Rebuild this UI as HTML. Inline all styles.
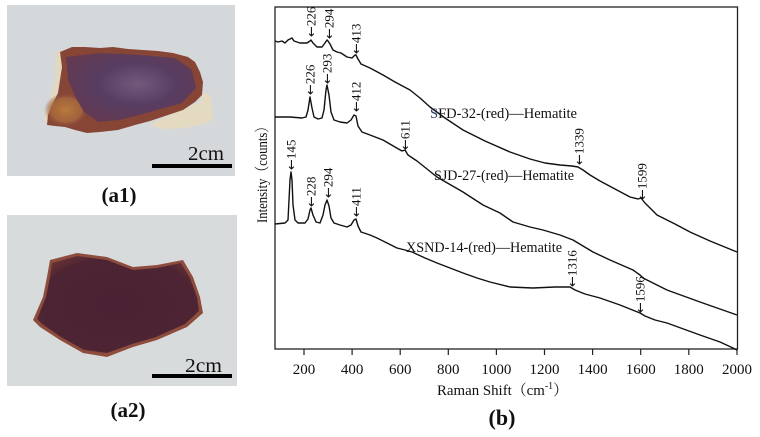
<!DOCTYPE html>
<html><head><meta charset="utf-8"><style>
html,body{margin:0;padding:0;background:#fff;}
svg{display:block;}
text{font-family:"Liberation Serif","Noto Serif CJK SC",serif;fill:#111;}
.ar{font-family:"DejaVu Sans",sans-serif;}
</style></head><body>
<svg width="760" height="437" viewBox="0 0 760 437" xmlns="http://www.w3.org/2000/svg">
<defs>
<radialGradient id="g1" cx="0.55" cy="0.45" r="0.6">
<stop offset="0" stop-color="#735a7c"/><stop offset="0.5" stop-color="#573d62"/><stop offset="1" stop-color="#643a52"/>
</radialGradient>
<radialGradient id="g2" cx="0.5" cy="0.5" r="0.6">
<stop offset="0" stop-color="#4a2233"/><stop offset="0.8" stop-color="#4d2433"/><stop offset="1" stop-color="#6a3334"/>
</radialGradient>
<radialGradient id="or" cx="0.5" cy="0.5" r="0.5">
<stop offset="0" stop-color="#b97a3c"/><stop offset="0.7" stop-color="#a86a3e" stop-opacity="0.8"/><stop offset="1" stop-color="#8a4a3e" stop-opacity="0"/>
</radialGradient>
</defs>

<!-- Photo a1 -->
<rect x="7" y="5" width="228" height="171" fill="#d5d8da"/>
<polygon points="150,124 200,102 203,92 211,96 213,120 200,125 185,128 160,129" fill="#e4dac1"/>
<polygon points="56,52 64,51 63,62 58,90 52,110 46,124 44,118 50,100 55,80" fill="#e2d8c0"/>
<polygon points="60,52 72,47 85,47 100,48 113,47 128,49 143,50 158,51 173,53 188,57 195,62 200,72 203,82 202,95 195,102 183,110 165,116 150,121 135,125 118,130 100,132 87,133 75,130 65,127 55,126 47,125 48,115 52,105 58,93 60,80 62,67" fill="#874536"/>
<ellipse cx="66" cy="110" rx="22" ry="17" fill="url(#or)"/>
<polygon points="66,57 100,53 140,55 175,58 192,70 196,88 182,103 150,112 120,120 98,122 84,112 76,98 68,80" fill="url(#g1)"/>
<rect x="152" y="164" width="80" height="4" fill="#000"/>
<text x="188" y="160" font-size="20" textLength="36" lengthAdjust="spacingAndGlyphs">2cm</text>
<text x="119" y="202" font-size="21" font-weight="bold" text-anchor="middle">(a1)</text>

<!-- Photo a2 -->
<rect x="7" y="215" width="230" height="171" fill="#d8dbdc"/>
<polygon points="50,260 77,253 107,257 133,267 157,265 183,260 193,277 200,297 203,313 187,327 157,340 133,347 107,357 83,353 60,340 40,327 33,320 43,297 47,277" fill="#8e4c3c"/>
<polygon points="52,263 77,256 107,260 133,270 157,268 181,263 190,278 197,297 199,311 185,324 156,337 132,344 107,353 84,350 61,337 42,324 37,319 46,297 50,277" fill="url(#g2)"/>
<rect x="152" y="374" width="80" height="4" fill="#000"/>
<text x="185" y="372" font-size="20" textLength="37" lengthAdjust="spacingAndGlyphs">2cm</text>
<text x="128" y="417" font-size="21" font-weight="bold" text-anchor="middle">(a2)</text>

<!-- Chart frame -->
<rect x="275" y="7" width="462.5" height="342" fill="none" stroke="#222" stroke-width="1.3"/>
<g stroke="#222" stroke-width="1.2">
<line x1="304" y1="349" x2="304" y2="355"/>
<line x1="352.1" y1="349" x2="352.1" y2="355"/>
<line x1="400.2" y1="349" x2="400.2" y2="355"/>
<line x1="448.3" y1="349" x2="448.3" y2="355"/>
<line x1="496.4" y1="349" x2="496.4" y2="355"/>
<line x1="544.5" y1="349" x2="544.5" y2="355"/>
<line x1="592.6" y1="349" x2="592.6" y2="355"/>
<line x1="640.7" y1="349" x2="640.7" y2="355"/>
<line x1="688.8" y1="349" x2="688.8" y2="355"/>
<line x1="737" y1="349" x2="737" y2="355"/>
</g>
<g font-size="15" text-anchor="middle">
<text x="304" y="374">200</text>
<text x="352.1" y="374">400</text>
<text x="400.2" y="374">600</text>
<text x="448.3" y="374">800</text>
<text x="496.4" y="374">1000</text>
<text x="544.5" y="374">1200</text>
<text x="592.6" y="374">1400</text>
<text x="640.7" y="374">1600</text>
<text x="688.8" y="374">1800</text>
<text x="737" y="374">2000</text>
</g>
<text x="437" y="395" font-size="15" textLength="131" lengthAdjust="spacingAndGlyphs">Raman Shift（cm<tspan font-size="10" dy="-6">-1</tspan><tspan dy="6">）</tspan></text>
<text x="502" y="425" font-size="22" font-weight="bold" text-anchor="middle">(b)</text>
<text transform="translate(267,223) rotate(-90)" font-size="15" textLength="103" lengthAdjust="spacingAndGlyphs">Intensity（counts）</text>

<!-- Curves -->
<g fill="none" stroke="#111" stroke-width="1.4" stroke-linejoin="round">
<polyline points="275,41 278,42 282,41 285,43 288,40 292,38 294,41 297,42 300,43 303,43 307,43 310,41 311,40 313,43 317,47 322,47 325,43 327,40 328,41 330,44 333,50 337,52 341,53 347,57 352,58 355,55 356,55 358,59 361,64 370,68 383,75 395,82 410,90 420,98 430,107 445,118 463,130 485,141 510,152 530,159 545,163 560,165 572,166 578,167 583,170 590,175 600,181 615,189 630,197 638,199 641,198 645,203 657,215 675,224 690,232 710,241 737,252"/>
<polyline points="275,117 290,117 302,118 306,117 308,110 310,97 312,108 314,117 318,119 322,118 324,110 326,90 327,85 329,95 331,112 334,120 340,122 347,123 351,120 354,115 356,116 358,126 362,132 370,135 383,140 395,147 402,151 405,150 408,155 417,161 437,177 463,192 483,205 500,213 513,222 530,227 543,230 560,235 573,240 583,246 593,252 610,260 633,270 640,275 643,278 655,284 667,290 700,302 737,315"/>
<polyline points="275,224 285,223 288,220 289,200 290,180 291,172 292,180 293,205 295,220 298,223 305,223 308,219 310,210 311,208 313,215 316,222 320,223 323,215 325,205 327,200 329,206 331,218 334,223 340,225 347,227 351,225 354,220 356,219 358,226 361,232 370,235 377,238 387,243 397,248 405,250 412,252 425,258 437,263 450,268 463,273 477,278 490,282 510,287 533,288 555,287 565,287 570,287 575,290 585,294 600,298 620,305 635,311 640,313 645,316 655,320 667,323 700,335 720,342 733,348 737,350"/>
</g>

<!-- Curve labels -->
<text x="430" y="118" font-size="14.5" textLength="147" lengthAdjust="spacingAndGlyphs"><tspan fill="#2a3f6a">S</tspan>FD-32-(red)—Hematite</text>
<text x="434" y="180" font-size="14.5" textLength="140" lengthAdjust="spacingAndGlyphs">SJD-27-(red)—Hematite</text>
<text x="406" y="252" font-size="14.5" textLength="156" lengthAdjust="spacingAndGlyphs">XSND-14-(red)—Hematite</text>

<!-- Peak labels (rotated) -->
<g font-size="13">
<text transform="translate(315.5,37) rotate(-90)"><tspan class="ar">←</tspan>226</text>
<text transform="translate(333.5,39) rotate(-90)"><tspan class="ar">←</tspan>294</text>
<text transform="translate(360.5,54) rotate(-90)"><tspan class="ar">←</tspan>413</text>
<text transform="translate(314.5,95) rotate(-90)"><tspan class="ar">←</tspan>226</text>
<text transform="translate(331.5,84) rotate(-90)"><tspan class="ar">←</tspan>293</text>
<text transform="translate(360.5,112) rotate(-90)"><tspan class="ar">←</tspan>412</text>
<text transform="translate(409.5,150) rotate(-90)"><tspan class="ar">←</tspan>611</text>
<text transform="translate(295.5,170) rotate(-90)"><tspan class="ar">←</tspan>145</text>
<text transform="translate(315.5,207) rotate(-90)"><tspan class="ar">←</tspan>228</text>
<text transform="translate(332.5,198) rotate(-90)"><tspan class="ar">←</tspan>294</text>
<text transform="translate(360.5,217) rotate(-90)"><tspan class="ar">←</tspan>411</text>
<text transform="translate(583.5,165) rotate(-90)"><tspan class="ar">←</tspan>1339</text>
<text transform="translate(646.5,200) rotate(-90)"><tspan class="ar">←</tspan>1599</text>
<text transform="translate(576.5,287) rotate(-90)"><tspan class="ar">←</tspan>1316</text>
<text transform="translate(644.5,313) rotate(-90)"><tspan class="ar">←</tspan>1596</text>
</g>
</svg>
</body></html>
